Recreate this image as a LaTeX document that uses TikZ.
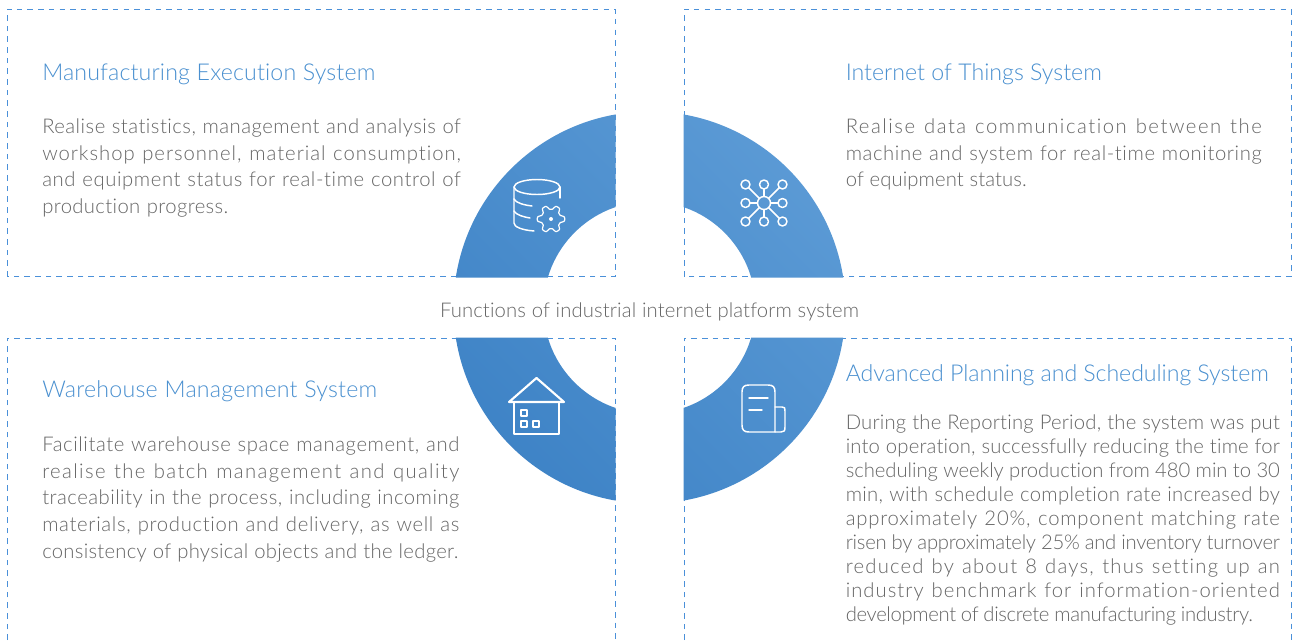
\documentclass[tikz,border=0pt]{standalone}
\usepackage{fontspec}
\usepackage{xstring}
\usetikzlibrary{calc}
\setmainfont[Ligatures=NoCommon]{Lato Light}
\definecolor{dashblue}{HTML}{4A90D9}
\definecolor{headblue}{HTML}{4A90D0}
\definecolor{bodygrey}{HTML}{666666}
\definecolor{ringdark}{HTML}{3E83C6}
\definecolor{ringlight}{HTML}{5B9AD5}
\tikzset{
  panel/.style={draw=dashblue,line width=0.7pt,dash pattern=on 4.2pt off 3.8pt},
  heading/.style={anchor=base west,inner sep=0pt,text=headblue,font=\fontsize{17.4}{18}\selectfont},
  para/.style={anchor=north west,inner sep=0pt,text=bodygrey,align=left},
  icon/.style={draw=white,line width=1.1pt,line cap=round,line join=round},
}
\noexpandarg
\newlength\natw
% one line of text, letterspaced to the given width
\newcommand{\fitline}[2]{{\settowidth\natw{#2}\StrLen{#2}[\nch]%
  \pgfmathsetmacro\lsp{(#1-\natw)/\nch/1em*100}%
  \addfontfeature{LetterSpace=\lsp}\makebox[#1][s]{#2}}}
\newcommand{\jline}[2]{\fitline{#1}{#2}\\}
\begin{document}
\begin{tikzpicture}[x=0.75pt,y=-0.75pt]
\useasboundingbox (0,0) rectangle (1292,640);
\fill[white] (0,0) rectangle (1292,640);
\draw[panel] (7,276.5) -- (7,9) -- (615,9) -- (615,276.5) -- cycle;
\draw[panel] (684,276.5) -- (684,9) -- (1291,9) -- (1291,276.5) -- cycle;
\draw[panel] (7,640) -- (7,338) -- (615,338) -- (615,640);
\draw[panel] (684,640) -- (684,338) -- (1291,338) -- (1291,640);
\begin{scope}
\clip (400,100) rectangle (615.5,277.5) (683.5,100) rectangle (900,277.5)
      (400,337.5) rectangle (615.5,520) (683.5,337.5) rectangle (900,520);
\begin{scope}[even odd rule]
\clip (649.5,307.5) circle[radius=196] (649.5,307.5) circle[radius=106];
\shade[bottom color=ringdark,top color=ringlight,shading angle=-45] (445,105) rectangle (855,510);
\end{scope}
\end{scope}

\node[heading] (h1) at (42,80) {\fitline{249.75pt}{Manufacturing Execution System}};
\node[heading] (h2) at (845.5,80) {\fitline{192pt}{Internet of Things System}};
\node[heading] (h3) at (42,397) {\fitline{251.25pt}{Warehouse Management System}};
\node[heading] (h4) at (845.5,381) {\fitline{317.25pt}{Advanced Planning and Scheduling System}};

\node[para,font=\fontsize{15.2}{20}\selectfont] (p1) at (42,118.5) {%
\jline{314pt}{Realise statistics, management and analysis of}%
\jline{314pt}{workshop personnel, material consumption,}%
\jline{314pt}{and equipment status for real-time control of}%
\fitline{139.5pt}{production progress.}};
\node[para,font=\fontsize{15.2}{20}\selectfont] (p2) at (845.5,118.5) {%
\jline{312pt}{Realise data communication between the}%
\jline{312pt}{machine and system for real-time monitoring}%
\fitline{135.75pt}{of equipment status.}};
\node[para,font=\fontsize{15.2}{20}\selectfont] (p3) at (42,436.5) {%
\jline{312.75pt}{Facilitate warehouse space management, and}%
\jline{312.75pt}{realise the batch management and quality}%
\jline{312.75pt}{traceability in the process, including incoming}%
\jline{312.75pt}{materials, production and delivery, as well as}%
\fitline{312pt}{consistency of physical objects and the ledger.}};
\node[para,font=\fontsize{15.2}{18}\selectfont] (p4) at (845.5,414.5) {%
\jline{325.5pt}{During the Reporting Period, the system was put}%
\jline{325.5pt}{into operation, successfully reducing the time for}%
\jline{325.5pt}{scheduling weekly production from 480 min to 30}%
\jline{325.5pt}{min, with schedule completion rate increased by}%
\jline{325.5pt}{approximately 20\%, component matching rate}%
\jline{325.5pt}{risen by approximately 25\% and inventory turnover}%
\jline{325.5pt}{reduced by about 8 days, thus setting up an}%
\jline{325.5pt}{industry benchmark for information-oriented}%
\fitline{305.25pt}{development of discrete manufacturing industry.}};
\node[anchor=base,inner sep=0pt,text=bodygrey,font=\fontsize{15.2}{18}\selectfont] (c) at (649.5,317.5) {\fitline{314.25pt}{Functions of industrial internet platform system}};

% database + gear icon
\draw[icon] (514,187) arc[start angle=180,end angle=-180,x radius=23,y radius=7.5];
\draw[icon] (514,187) -- (514,223) .. controls (514,227) and (522,230) .. (534,231);
\draw[icon] (560,187) -- (560,198);
\draw[icon] (514,199) .. controls (516,203) and (524,205) .. (532,206);
\draw[icon] (514,211) .. controls (516,215) and (524,217) .. (530,218);
\draw[icon,line width=.9pt] plot[smooth cycle,samples=72,domain=0:355] ({551+(11.7+2*max(min(1.6*cos(6*\x),1),-1))*cos(\x)},{219+(11.7+2*max(min(1.6*cos(6*\x),1),-1))*sin(\x)});
\fill[white] (551,219) circle[radius=2];

% network icon
\coordinate (nc) at (764,203);
\draw[icon] (nc) circle[radius=6.5];
\foreach \dx/\dy in {-18.5/-18.5,0/-18.5,18.5/-18.5,-18.5/0,18.5/0,-18.5/18.5,0/18.5,18.5/18.5}{
  \draw[icon] ($(nc)+(\dx,\dy)$) circle[radius=4.5];
}
\foreach \a/\b/\c/\d in {-4.6/-4.6/-15.3/-15.3,4.6/-4.6/15.3/-15.3,-4.6/4.6/-15.3/15.3,4.6/4.6/15.3/15.3,0/-6.5/0/-14,0/6.5/0/14,-6.5/0/-14/0,6.5/0/14/0}{
  \draw[icon] ($(nc)+(\a,\b)$) -- ($(nc)+(\c,\d)$);
}

% house icon
\draw[icon,line width=1.6pt] (509,402) -- (536.5,378) -- (564,402) -- cycle;
\draw[icon,line width=1.3pt] (514,403) -- (514,434) -- (559,434) -- (559,403);
\draw[icon,line width=.8pt] (521,410) rectangle (527,416);
\draw[icon,line width=.8pt] (521,421) rectangle (527,427);
\draw[icon,line width=.8pt] (533,421) rectangle (539,427);

% document icon
\draw[icon] (742,392) .. controls (742,387) and (744,385) .. (749,385) -- (768,385) .. controls (773,385) and (775,387) .. (775,392) -- (775,432) -- (749,432) .. controls (744,432) and (742,430) .. (742,425) -- cycle;
\draw[icon] (775,407) -- (782,407) .. controls (785,407) and (785,408) .. (785,411) -- (785,427) .. controls (785,431) and (784,432) .. (781,432) -- (775,432);
\draw[icon] (749,398) -- (768,398);
\draw[icon] (749,410) -- (762,410);
\end{tikzpicture}
\end{document}
